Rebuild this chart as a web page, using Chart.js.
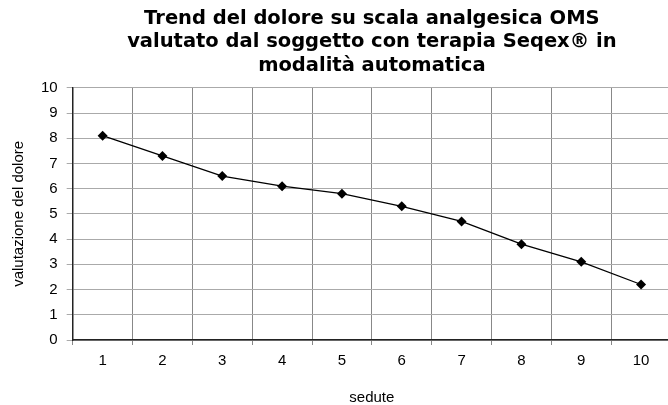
<!DOCTYPE html>
<html>
<head>
<meta charset="utf-8">
<script src="https://cdn.jsdelivr.net/npm/chart.js@4"></script>
<style>
  html, body { margin: 0; padding: 0; background: #fff; overflow: hidden; }
  #wrap { width: 676px; height: 405px; }
</style>
</head>
<body>
<div id="wrap"><canvas id="painChart" width="676" height="405"></canvas></div>
<script>
// sessions (sedute) and pain score
const sessions = ['1', '2', '3', '4', '5', '6', '7', '8', '9', '10'];
const painScores = [8.1, 7.3, 6.5, 6.1, 5.8, 5.3, 4.7, 3.8, 3.1, 2.2];
const titleLines = [
  'Trend del dolore su scala analgesica OMS',
  'valutato dal soggetto con terapia Seqex® in',
  'modalità automatica'
];

Chart.defaults.font.family = 'Arial, "Liberation Sans", sans-serif';
Chart.defaults.color = '#000';

const ctx = document.getElementById('painChart').getContext('2d');
new Chart(ctx, {
  type: 'line',
  data: {
    labels: sessions,
    datasets: [{
      data: painScores,
      borderColor: '#000',
      borderWidth: 1.3,
      backgroundColor: '#000',
      pointStyle: 'rectRot',
      pointRadius: 5,
      pointBorderWidth: 0,
      tension: 0,
      fill: false
    }]
  },
  options: {
    responsive: false,
    animation: false,
    layout: { padding: { left: 10, right: 0, top: 4, bottom: 0 } },
    plugins: {
      legend: { display: false },
      tooltip: { enabled: false },
      title: {
        display: true,
        text: titleLines,
        fullSize: false, // centre over the plot area like the original
        font: { family: '"DejaVu Sans", sans-serif', size: 19.5, weight: 'bold', lineHeight: 1.21 },
        padding: { top: 3, bottom: 10 }
      }
    },
    scales: {
      x: {
        offset: true,
        grid: { offset: true, color: '#888', lineWidth: 1, tickLength: 5 },
        border: { color: '#222', width: 1.5 },
        ticks: { font: { size: 15 }, padding: 7 },
        title: { display: true, text: 'sedute', font: { size: 15, lineHeight: 1 }, padding: { top: 13, bottom: 0 } }
      },
      y: {
        min: 0,
        max: 10,
        ticks: { stepSize: 1, font: { size: 15 }, padding: 9 },
        grid: { color: '#aaa', lineWidth: 1, tickLength: 6 },
        border: { color: '#222', width: 1.5 },
        title: { display: true, text: 'valutazione del dolore', font: { size: 15 }, padding: { top: 0, bottom: 4 } }
      }
    }
  }
});
</script>
</body>
</html>
